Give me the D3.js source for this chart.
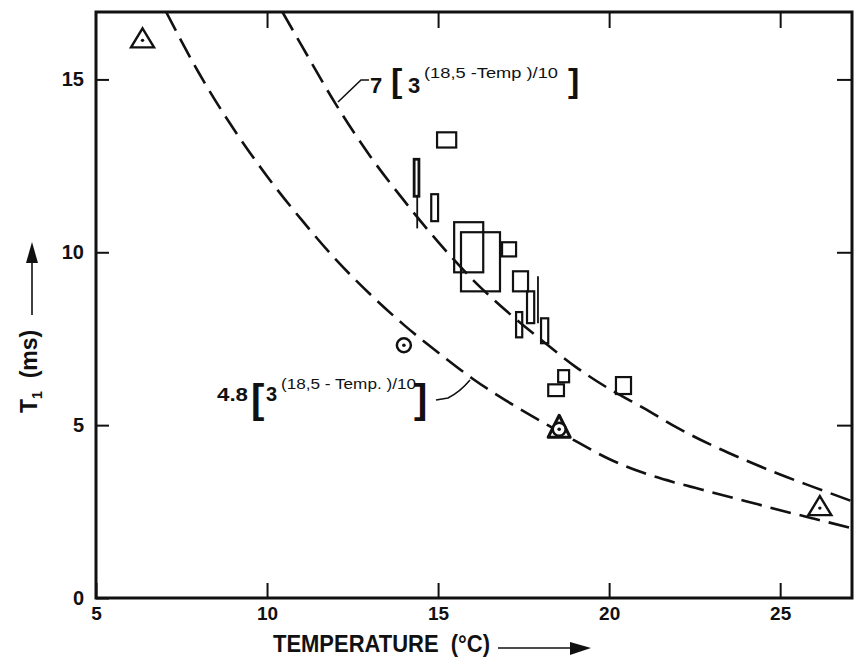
<!DOCTYPE html>
<html>
<head>
<meta charset="utf-8">
<script src="https://cdn.jsdelivr.net/npm/d3@7"></script>
<style>
  body { margin: 0; background: #fff; }
  text { font-family: "Liberation Sans", Arial, sans-serif; fill: #111; white-space: pre; }
</style>
</head>
<body>
<script>
// ticks
const tempTicks = [5, 10, 15, 20, 25];
const t1Ticks = [0, 5, 10, 15];
const topTicks = [10, 15, 20, 25];
const rightTicks = [5, 10, 15];

// dashed curves
const upperTemp = [10.45, 11, 12, 13, 14, 15, 16, 17, 18, 19, 20, 21, 22, 23, 24, 25, 26, 27.1];
const upperT1 = [16.95, 16.0, 14.3, 12.8, 11.5, 10.3, 9.22, 8.3, 7.48, 6.7, 6.05, 5.5, 4.92, 4.42, 3.98, 3.57, 3.2, 2.8];
const lowerTemp = [7.05, 8, 9, 10, 11, 12, 13, 14, 15, 16, 17, 18, 19, 20, 21, 22, 23, 24, 25, 26, 27.1];
const lowerT1 = [16.95, 15.2, 13.6, 12.2, 10.95, 9.8, 8.8, 7.9, 7.1, 6.35, 5.7, 5.12, 4.55, 4.02, 3.62, 3.32, 3.06, 2.8, 2.54, 2.29, 2.02];

// boxes : temperature range x T1 range
const boxTemp0 = [14.30, 14.80, 14.97, 15.47, 15.67, 16.87, 17.19, 17.60, 18.01, 17.28, 18.22, 18.51, 20.20];
const boxTemp1 = [14.44, 15.00, 15.53, 16.32, 16.81, 17.28, 17.63, 17.81, 18.22, 17.46, 18.68, 18.83, 20.64];
const boxT1Lo = [11.62, 10.90, 13.03, 9.42, 8.87, 9.88, 8.87, 7.95, 7.37, 7.54, 5.84, 6.24, 5.90];
const boxT1Hi = [12.69, 11.68, 13.47, 10.87, 10.58, 10.29, 9.45, 8.87, 8.09, 8.27, 6.18, 6.59, 6.39];

// vertical range lines
const lineTemp = [14.39, 17.92];
const lineLo = [10.69, 7.95];
const lineHi = [11.62, 9.31];

// single points
const triTemp = [6.36, 26.16];
const triT1 = [16.13, 2.6];
const circTemp = [14.0];
const circT1 = [7.31];
const triCircTemp = [18.54];
const triCircT1 = [4.88];

var width = 856;
var height = 664;

var svg = d3.select("body")
    .append("svg")
    .attr("width", width)
    .attr("height", height);

var xscale = d3.scaleLinear().domain([5, 27.1]).range([96, 852]);
var yscale = d3.scaleLinear().domain([0, 16.95]).range([598, 12]);

svg.append("clipPath").attr("id", "plot")
    .append("rect")
    .attr("x", 96).attr("y", 12).attr("width", 756).attr("height", 586);

// axes : inward ticks, frame drawn separately
svg.append("g")
    .attr("transform", "translate(96,0)")
    .call(d3.axisLeft(yscale).tickValues(t1Ticks).tickSize(-13).tickPadding(12))
    .call(g => g.select(".domain").remove())
    .call(g => g.selectAll("line").attr("stroke", "#111").attr("stroke-width", 2))
    .call(g => g.selectAll("text").style("font-size", "20px").style("font-weight", "bold").attr("fill", "#111"));

svg.append("g")
    .attr("transform", "translate(0,598)")
    .call(d3.axisBottom(xscale).tickValues(tempTicks).tickSize(-15).tickPadding(9))
    .call(g => g.select(".domain").remove())
    .call(g => g.selectAll("line").attr("stroke", "#111").attr("stroke-width", 2))
    .call(g => g.selectAll("text").style("font-size", "19px").style("font-weight", "bold").attr("fill", "#111"));

svg.append("g")
    .attr("transform", "translate(0,12)")
    .call(d3.axisTop(xscale).tickValues(topTicks).tickSize(-16).tickFormat(""))
    .call(g => g.select(".domain").remove())
    .call(g => g.selectAll("line").attr("stroke", "#111").attr("stroke-width", 2));

svg.append("g")
    .attr("transform", "translate(852,0)")
    .call(d3.axisRight(yscale).tickValues(rightTicks).tickSize(-15).tickFormat(""))
    .call(g => g.select(".domain").remove())
    .call(g => g.selectAll("line").attr("stroke", "#111").attr("stroke-width", 2));

// frame
svg.append("rect")
    .attr("x", 96).attr("y", 12).attr("width", 756).attr("height", 586)
    .attr("fill", "none").attr("stroke", "#111").attr("stroke-width", 3);

// dashed curves
var line = d3.line()
    .x(d => xscale(d[0]))
    .y(d => yscale(d[1]))
    .curve(d3.curveMonotoneX);

var curves = [d3.zip(upperTemp, upperT1), d3.zip(lowerTemp, lowerT1)];
svg.append("g").attr("clip-path", "url(#plot)")
    .selectAll("path")
    .data(curves)
    .enter()
    .append("path")
    .attr("d", line)
    .attr("fill", "none")
    .attr("stroke", "#111")
    .attr("stroke-width", 2.6)
    .attr("stroke-dasharray", "21,9");

// boxes
var boxes = d3.range(boxTemp0.length);
svg.append("g")
    .selectAll("rect")
    .data(boxes)
    .enter()
    .append("rect")
    .attr("x", i => xscale(boxTemp0[i]))
    .attr("y", i => yscale(boxT1Hi[i]))
    .attr("width", i => xscale(boxTemp1[i]) - xscale(boxTemp0[i]))
    .attr("height", i => yscale(boxT1Lo[i]) - yscale(boxT1Hi[i]))
    .attr("fill", "none")
    .attr("stroke", "#111")
    .attr("stroke-width", i => i == 0 ? 2.8 : 2.2);

svg.append("g")
    .selectAll("line")
    .data(d3.range(lineTemp.length))
    .enter()
    .append("line")
    .attr("x1", i => xscale(lineTemp[i]))
    .attr("x2", i => xscale(lineTemp[i]))
    .attr("y1", i => yscale(lineHi[i]))
    .attr("y2", i => yscale(lineLo[i]))
    .attr("stroke", "#111")
    .attr("stroke-width", 1.8);

// triangles with a dot
var tri = svg.append("g")
    .selectAll("g")
    .data(d3.zip(triTemp, triT1))
    .enter()
    .append("g")
    .attr("transform", d => "translate(" + xscale(d[0]) + "," + yscale(d[1]) + ")");
tri.append("path")
    .attr("d", "M0,-12L11.5,7L-11.5,7Z")
    .attr("fill", "none").attr("stroke", "#111").attr("stroke-width", 2.4)
    .attr("stroke-linejoin", "miter");
tri.append("circle").attr("r", 1.7).attr("fill", "#111");

// circle with a dot
var circ = svg.append("g")
    .selectAll("g")
    .data(d3.zip(circTemp, circT1))
    .enter()
    .append("g")
    .attr("transform", d => "translate(" + xscale(d[0]) + "," + yscale(d[1]) + ")");
circ.append("circle").attr("r", 7).attr("fill", "#fff").attr("stroke", "#111").attr("stroke-width", 2.5);
circ.append("circle").attr("r", 1.8).attr("fill", "#111");

// triangle + circle + dot
var tc = svg.append("g")
    .selectAll("g")
    .data(d3.zip(triCircTemp, triCircT1))
    .enter()
    .append("g")
    .attr("transform", d => "translate(" + xscale(d[0]) + "," + yscale(d[1]) + ")");
tc.append("path")
    .attr("d", "M0,-14L11,8L-11,8Z")
    .attr("fill", "#fff").attr("stroke", "#111").attr("stroke-width", 3)
    .attr("stroke-linejoin", "round");
tc.append("circle").attr("r", 6.5).attr("fill", "#fff").attr("stroke", "#111").attr("stroke-width", 2.6);
tc.append("circle").attr("r", 1.8).attr("fill", "#111");

// formula labels
var lab = svg.append("g");
lab.append("text").attr("x", 370).attr("y", 93).style("font-size", "22px").style("font-weight", "bold").text("7");
lab.append("text").attr("x", 391).attr("y", 92).style("font-size", "34px").style("font-weight", "bold").text("[");
lab.append("text").attr("x", 408).attr("y", 93).style("font-size", "22px").style("font-weight", "bold").text("3");
lab.append("text").attr("x", 424).attr("y", 78).style("font-size", "14px")
    .attr("textLength", 134).attr("lengthAdjust", "spacingAndGlyphs").text("(18,5 -Temp )/10");
lab.append("text").attr("x", 568).attr("y", 92).style("font-size", "34px").style("font-weight", "bold").text("]");
lab.append("path").attr("d", "M369,80L361,80L338,102")
    .attr("fill", "none").attr("stroke", "#111").attr("stroke-width", 1.6);

lab.append("text").attr("x", 217).attr("y", 401).style("font-size", "19px").style("font-weight", "bold")
    .attr("textLength", 31).attr("lengthAdjust", "spacingAndGlyphs").text("4.8");
lab.append("text").attr("x", 251).attr("y", 413).style("font-size", "40px").style("font-weight", "bold").text("[");
lab.append("text").attr("x", 266).attr("y", 401).style("font-size", "20px").style("font-weight", "bold").text("3");
lab.append("text").attr("x", 281).attr("y", 389).style("font-size", "14px")
    .attr("textLength", 135).attr("lengthAdjust", "spacingAndGlyphs").text("(18,5 - Temp. )/10");
lab.append("text").attr("x", 414).attr("y", 413).style("font-size", "40px").style("font-weight", "bold").text("]");
lab.append("path").attr("d", "M436,400L448,398Q460,392,470,380")
    .attr("fill", "none").attr("stroke", "#111").attr("stroke-width", 1.6);

// axis titles with arrows
svg.append("text").attr("x", 273).attr("y", 652).style("font-size", "24px").style("font-weight", "bold")
    .attr("textLength", 217).attr("lengthAdjust", "spacingAndGlyphs")
    .text("TEMPERATURE  (°C)");
svg.append("line").attr("x1", 498).attr("y1", 648).attr("x2", 575).attr("y2", 648)
    .attr("stroke", "#111").attr("stroke-width", 1.6);
svg.append("path").attr("d", "M591,648L570,642L570,655Z").attr("fill", "#111");

svg.append("text")
    .attr("transform", "translate(37,413) rotate(-90)")
    .style("font-size", "23px")
    .style("font-weight", "bold")
    .call(t => {
        t.append("tspan").text("T");
        t.append("tspan").attr("dy", 5).style("font-size", "14px").text("1");
        t.append("tspan").attr("dy", -5).text("  (ms)");
    });
svg.append("line").attr("x1", 32).attr("y1", 315).attr("x2", 32).attr("y2", 258)
    .attr("stroke", "#111").attr("stroke-width", 1.6);
svg.append("path").attr("d", "M32,242L26,263L38,263Z").attr("fill", "#111");
</script>
</body>
</html>
